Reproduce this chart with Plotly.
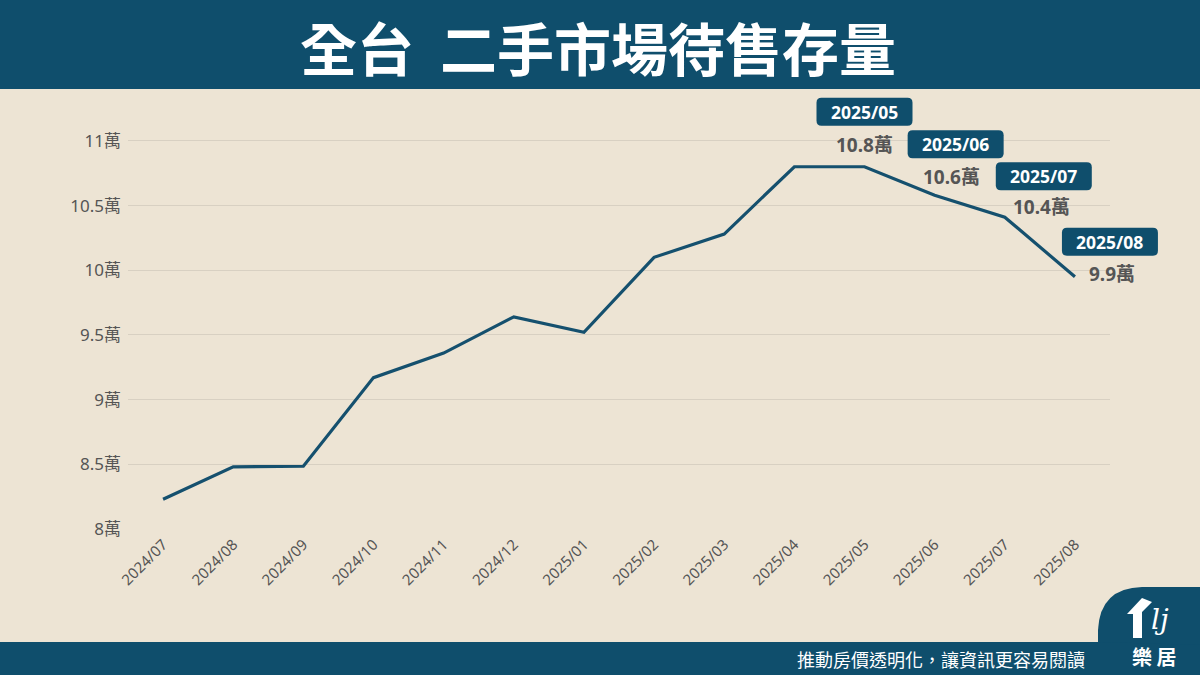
import plotly.graph_objects as go

months = ["2024/07", "2024/08", "2024/09", "2024/10", "2024/11", "2024/12", "2025/01",
          "2025/02", "2025/03", "2025/04", "2025/05", "2025/06", "2025/07", "2025/08"]
values = [8.23, 8.48, 8.485, 9.17, 9.36, 9.64, 9.52, 10.10, 10.28, 10.80, 10.80, 10.58, 10.41, 9.95]
y_ticks = [8, 8.5, 9, 9.5, 10, 10.5, 11]
y_tick_labels = ["8萬", "8.5萬", "9萬", "9.5萬", "10萬", "10.5萬", "11萬"]
callout_months = ["2025/05", "2025/06", "2025/07", "2025/08"]
callout_labels = ["10.8萬", "10.6萬", "10.4萬", "9.9萬"]

W, H = 1200, 675
L, R, T, B = 128, 90, 115, 146
PW, PH = W - L - R, H - T - B
X_RANGE = [-0.5, len(months) - 0.5]
Y_RANGE = [8, 11.2]

def px(x):
    return (x - L) / PW

def py(y):
    return (H - B - y) / PH

def data_to_paper(month, v):
    i = months.index(month)
    return ((i - X_RANGE[0]) / (X_RANGE[1] - X_RANGE[0]),
            (v - Y_RANGE[0]) / (Y_RANGE[1] - Y_RANGE[0]))

DARK = "#0f4e6c"
BG = "#ede4d4"
FONT = "Noto Sans CJK TC"
TICKFONT = "Noto Sans, Noto Sans CJK TC"

fig = go.Figure()
fig.add_trace(go.Scatter(
    x=months, y=values, mode="lines",
    line=dict(color="#15506e", width=3.2),
    hoverinfo="skip", showlegend=False, cliponaxis=False,
))

shapes = []
annotations = []

# header band
shapes.append(dict(type="rect", xref="paper", yref="paper", x0=px(0), x1=px(W), y0=py(89), y1=py(0),
                   fillcolor=DARK, line_width=0, layer="below"))
annotations.append(dict(xref="paper", yref="paper", x=px(598), y=py(46), text="<b>全台  二手市場待售存量</b>",
                        showarrow=False, font=dict(family=FONT, size=57, color="white"),
                        xanchor="center", yanchor="middle"))

# footer band + logo tab
shapes.append(dict(type="rect", xref="paper", yref="paper", x0=px(0), x1=px(W), y0=py(H), y1=py(642),
                   fillcolor=DARK, line_width=0, layer="below"))
tab_path = (f"M {px(1098)},{py(642)} L {px(1098)},{py(630)} "
            f"Q {px(1100)},{py(588)} {px(1142)},{py(587)} L {px(W)},{py(587)} L {px(W)},{py(645)} Z")
shapes.append(dict(type="path", xref="paper", yref="paper", path=tab_path,
                   fillcolor=DARK, line_width=0, layer="below"))
# logo icon (simplified house roof)
icon_path = (f"M {px(1127)},{py(614)} L {px(1142)},{py(598)} L {px(1152)},{py(602)} "
             f"L {px(1142)},{py(612)} L {px(1142)},{py(638)} L {px(1133)},{py(638)} L {px(1133)},{py(614)} Z")
shapes.append(dict(type="path", xref="paper", yref="paper", path=icon_path,
                   fillcolor="white", line_width=0))
annotations.append(dict(xref="paper", yref="paper", x=px(1160), y=py(619), text="<i>lj</i>",
                        showarrow=False, font=dict(family="DejaVu Serif", size=28, color="white"),
                        xanchor="center", yanchor="middle"))
annotations.append(dict(xref="paper", yref="paper", x=px(1154), y=py(656), text="<b>樂 居</b>",
                        showarrow=False, font=dict(family=FONT, size=20, color="white"),
                        xanchor="center", yanchor="middle"))
annotations.append(dict(xref="paper", yref="paper", x=px(1087), y=py(659),
                        text="推動房價透明化，讓資訊更容易閱讀",
                        showarrow=False, font=dict(family=FONT, size=18, color="white"),
                        xanchor="right", yanchor="middle"))

# callouts: (box dx, box dy, label dx, label dy) in pixels relative to the data point (screen dy down)
offsets = [(0, -55, 0, -22), (21, -51, 17, -18), (39, -41, 37, -10), (35, -35, 37, -3)]
bw, bh, r = 96, 28, 5
for m, lab, (bx, by, lx, ly) in zip(callout_months, callout_labels, offsets):
    v = values[months.index(m)]
    ax, ay = data_to_paper(m, v)
    x0, x1 = bx - bw / 2, bx + bw / 2
    yc = -by
    y0, y1 = yc - bh / 2, yc + bh / 2
    path = (f"M {x0 + r},{y0} L {x1 - r},{y0} Q {x1},{y0} {x1},{y0 + r} L {x1},{y1 - r} "
            f"Q {x1},{y1} {x1 - r},{y1} L {x0 + r},{y1} Q {x0},{y1} {x0},{y1 - r} "
            f"L {x0},{y0 + r} Q {x0},{y0} {x0 + r},{y0} Z")
    shapes.append(dict(type="path", xref="paper", yref="paper", xsizemode="pixel", ysizemode="pixel",
                       xanchor=ax, yanchor=ay, path=path, fillcolor=DARK, line_width=0))
    annotations.append(dict(x=m, y=v, xref="x", yref="y", text=f"<b>{m}</b>", showarrow=False,
                            xshift=bx, yshift=-by, font=dict(family=TICKFONT, size=17.5, color="white"),
                            xanchor="center", yanchor="middle"))
    annotations.append(dict(x=m, y=v, xref="x", yref="y", text=f"<b>{lab}</b>", showarrow=False,
                            xshift=lx, yshift=-ly, font=dict(family=TICKFONT, size=19, color="#555555"),
                            xanchor="center", yanchor="middle"))

fig.update_layout(
    width=W, height=H,
    margin=dict(l=L, r=R, t=T, b=B),
    paper_bgcolor=BG, plot_bgcolor=BG,
    shapes=shapes, annotations=annotations,
    font=dict(family=TICKFONT, color="#555555"),
    xaxis=dict(type="category", range=X_RANGE, showgrid=False, zeroline=False,
               showline=False, ticks="", tickangle=-45, ticklabelstandoff=3,
               tickfont=dict(family=TICKFONT, size=15, color="#555555"),
               fixedrange=True),
    yaxis=dict(range=Y_RANGE, tickvals=y_ticks, ticktext=y_tick_labels, showgrid=True,
               gridcolor="#d8d0c2", gridwidth=1, zeroline=False, showline=False, ticks="",
               ticklabelstandoff=6, tickfont=dict(family=TICKFONT, size=17, color="#555555"),
               fixedrange=True),
)

fig.write_html("out.html", config={"displayModeBar": False})
